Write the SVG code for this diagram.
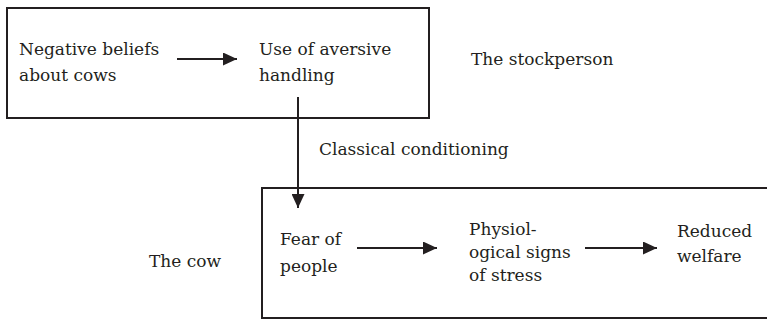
<svg xmlns="http://www.w3.org/2000/svg" width="767" height="321" viewBox="0 0 767 321">
<defs>
<marker id="ah" viewBox="0 0 14 13" refX="14" refY="6.5" markerWidth="14" markerHeight="13" markerUnits="userSpaceOnUse" orient="auto">
<path d="M0,0 L14,6.5 L0,13 Z" fill="#231f20"/>
</marker>
</defs>
<rect width="767" height="321" fill="#fff"/>
<g id="stockperson-box"><rect x="7" y="8" width="422" height="110" fill="none" stroke="#231f20" stroke-width="2"/></g>
<g id="cow-box"><rect x="262" y="188" width="510" height="130" fill="none" stroke="#231f20" stroke-width="2"/></g>
<g id="negative-beliefs"><text font-family="DejaVu Serif, serif" font-size="17" fill="#231f20" x="19" y="55">Negative beliefs</text><text font-family="DejaVu Serif, serif" font-size="17" fill="#231f20" x="19" y="81">about cows</text></g>
<g id="aversive-handling"><text font-family="DejaVu Serif, serif" font-size="17" fill="#231f20" x="259" y="55">Use of aversive</text><text font-family="DejaVu Serif, serif" font-size="17" fill="#231f20" x="259" y="81">handling</text></g>
<g id="stockperson-label"><text font-family="DejaVu Serif, serif" font-size="17" fill="#231f20" x="471" y="65">The stockperson</text></g>
<g id="classical-label"><text font-family="DejaVu Serif, serif" font-size="17" fill="#231f20" x="319" y="155">Classical conditioning</text></g>
<g id="cow-label"><text font-family="DejaVu Serif, serif" font-size="17" fill="#231f20" x="149" y="267">The cow</text></g>
<g id="fear"><text font-family="DejaVu Serif, serif" font-size="17" fill="#231f20" x="280" y="245">Fear of</text><text font-family="DejaVu Serif, serif" font-size="17" fill="#231f20" x="280" y="272">people</text></g>
<g id="physiological"><text font-family="DejaVu Serif, serif" font-size="17" fill="#231f20" x="469" y="235">Physiol-</text><text font-family="DejaVu Serif, serif" font-size="17" fill="#231f20" x="469" y="258">ogical signs</text><text font-family="DejaVu Serif, serif" font-size="17" fill="#231f20" x="469" y="281">of stress</text></g>
<g id="reduced-welfare"><text font-family="DejaVu Serif, serif" font-size="17" fill="#231f20" x="677" y="237">Reduced</text><text font-family="DejaVu Serif, serif" font-size="17" fill="#231f20" x="677" y="262">welfare</text></g>
<g id="connectors" fill="none" stroke="#231f20" stroke-width="2">
<line x1="177" y1="59" x2="237" y2="59" marker-end="url(#ah)"/>
<line x1="298" y1="97" x2="298" y2="208" marker-end="url(#ah)"/>
<line x1="357" y1="248" x2="437" y2="248" marker-end="url(#ah)"/>
<line x1="585" y1="248" x2="657" y2="248" marker-end="url(#ah)"/>
</g>
</svg>
